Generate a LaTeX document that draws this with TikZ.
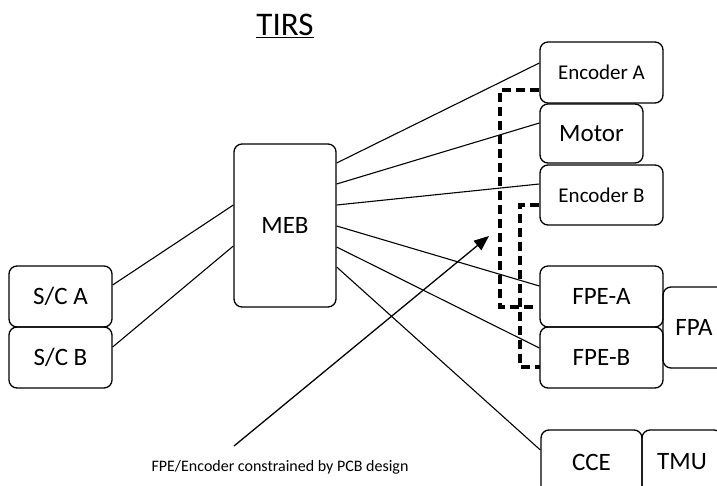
\documentclass[tikz,border=0pt]{standalone}
\usepackage{fontspec}
\setmainfont{Carlito}
\usetikzlibrary{arrows.meta}
\begin{document}
\begin{tikzpicture}[x=1pt,y=-1pt,
  box/.style={draw,line width=1.3pt,rounded corners=8pt,inner sep=0pt,font=\fontsize{25}{28}\selectfont},
  smallbox/.style={box,font=\fontsize{21}{24}\selectfont},
  wire/.style={line width=1.1pt},
  dashwire/.style={line width=3.2pt,dash pattern=on 9pt off 5pt},
  pointer/.style={line width=1.3pt,-{Triangle[length=15pt,width=12pt]}}]
\useasboundingbox (0,0) rectangle (717,486);
% title
\node[font=\fontsize{33}{36}\selectfont] (title) at (285,26) {\underline{TIRS}};
% boxes
\node[box,minimum width=102pt,minimum height=163pt] (meb) at (285,225.5) {MEB};
\node[box,minimum width=103pt,minimum height=61pt] (sca) at (60.5,296.5) {S/C A};
\node[box,minimum width=103pt,minimum height=61pt] (scb) at (60.5,357.5) {S/C B};
\node[smallbox,minimum width=123pt,minimum height=61pt] (encA) at (601.5,72.5) {Encoder A};
\node[box,minimum width=103pt,minimum height=59pt] (motor) at (591.5,133.5) {Motor};
\node[smallbox,minimum width=123pt,minimum height=60pt] (encB) at (601.5,195) {Encoder B};
\node[box,minimum width=62pt,minimum height=81pt] (fpa) at (694,327.5) {FPA};
\node[box,minimum width=123pt,minimum height=61pt] (fpea) at (601.5,296.5) {FPE-A};
\node[box,minimum width=123pt,minimum height=61pt] (fpeb) at (601.5,357.5) {FPE-B};
\node[box,minimum width=101pt,minimum height=64pt] (cce) at (591.5,462) {CCE};
\node[box,minimum width=80pt,minimum height=64pt] (tmu) at (682,462) {TMU};
% connectors
\draw[wire] ([yshift=11.5pt]sca.east) -- ([yshift=20.5pt]meb.west);
\draw[wire] ([yshift=10.5pt]scb.east) -- ([yshift=-20.5pt]meb.west);
\draw[wire] ([yshift=62.5pt]meb.east) -- ([yshift=9.5pt]encA.west);
\draw[wire] ([yshift=41.5pt]meb.east) -- ([yshift=10.5pt]motor.west);
\draw[wire] ([yshift=20.5pt]meb.east) -- ([yshift=11pt]encB.west);
\draw[wire] ([yshift=-0.5pt]meb.east) -- ([yshift=10.5pt]fpea.west);
\draw[wire] ([yshift=-21.5pt]meb.east) -- ([yshift=9.5pt]fpeb.west);
\draw[wire] ([yshift=-41.5pt]meb.east) -- ([yshift=12pt]cce.west);
% dashed links
\coordinate (dA) at (534,307);
\coordinate (dB) at (540,367);
\draw[dashwire] ([yshift=-17.5pt]encA.west) -- (500,90) -- (500,307) -- (dA);
\draw[dashwire] ([yshift=-10pt]encB.west) -- (520,205) -- (520,367) -- (dB);
% note
\node[font=\fontsize{16}{19}\selectfont] (note) at (280,467) {FPE/Encoder constrained by PCB design};
\coordinate (noteStart) at (234,446);
\coordinate (noteTip) at (489,236);
\draw[pointer] (noteStart) -- (noteTip);
\end{tikzpicture}
\end{document}
